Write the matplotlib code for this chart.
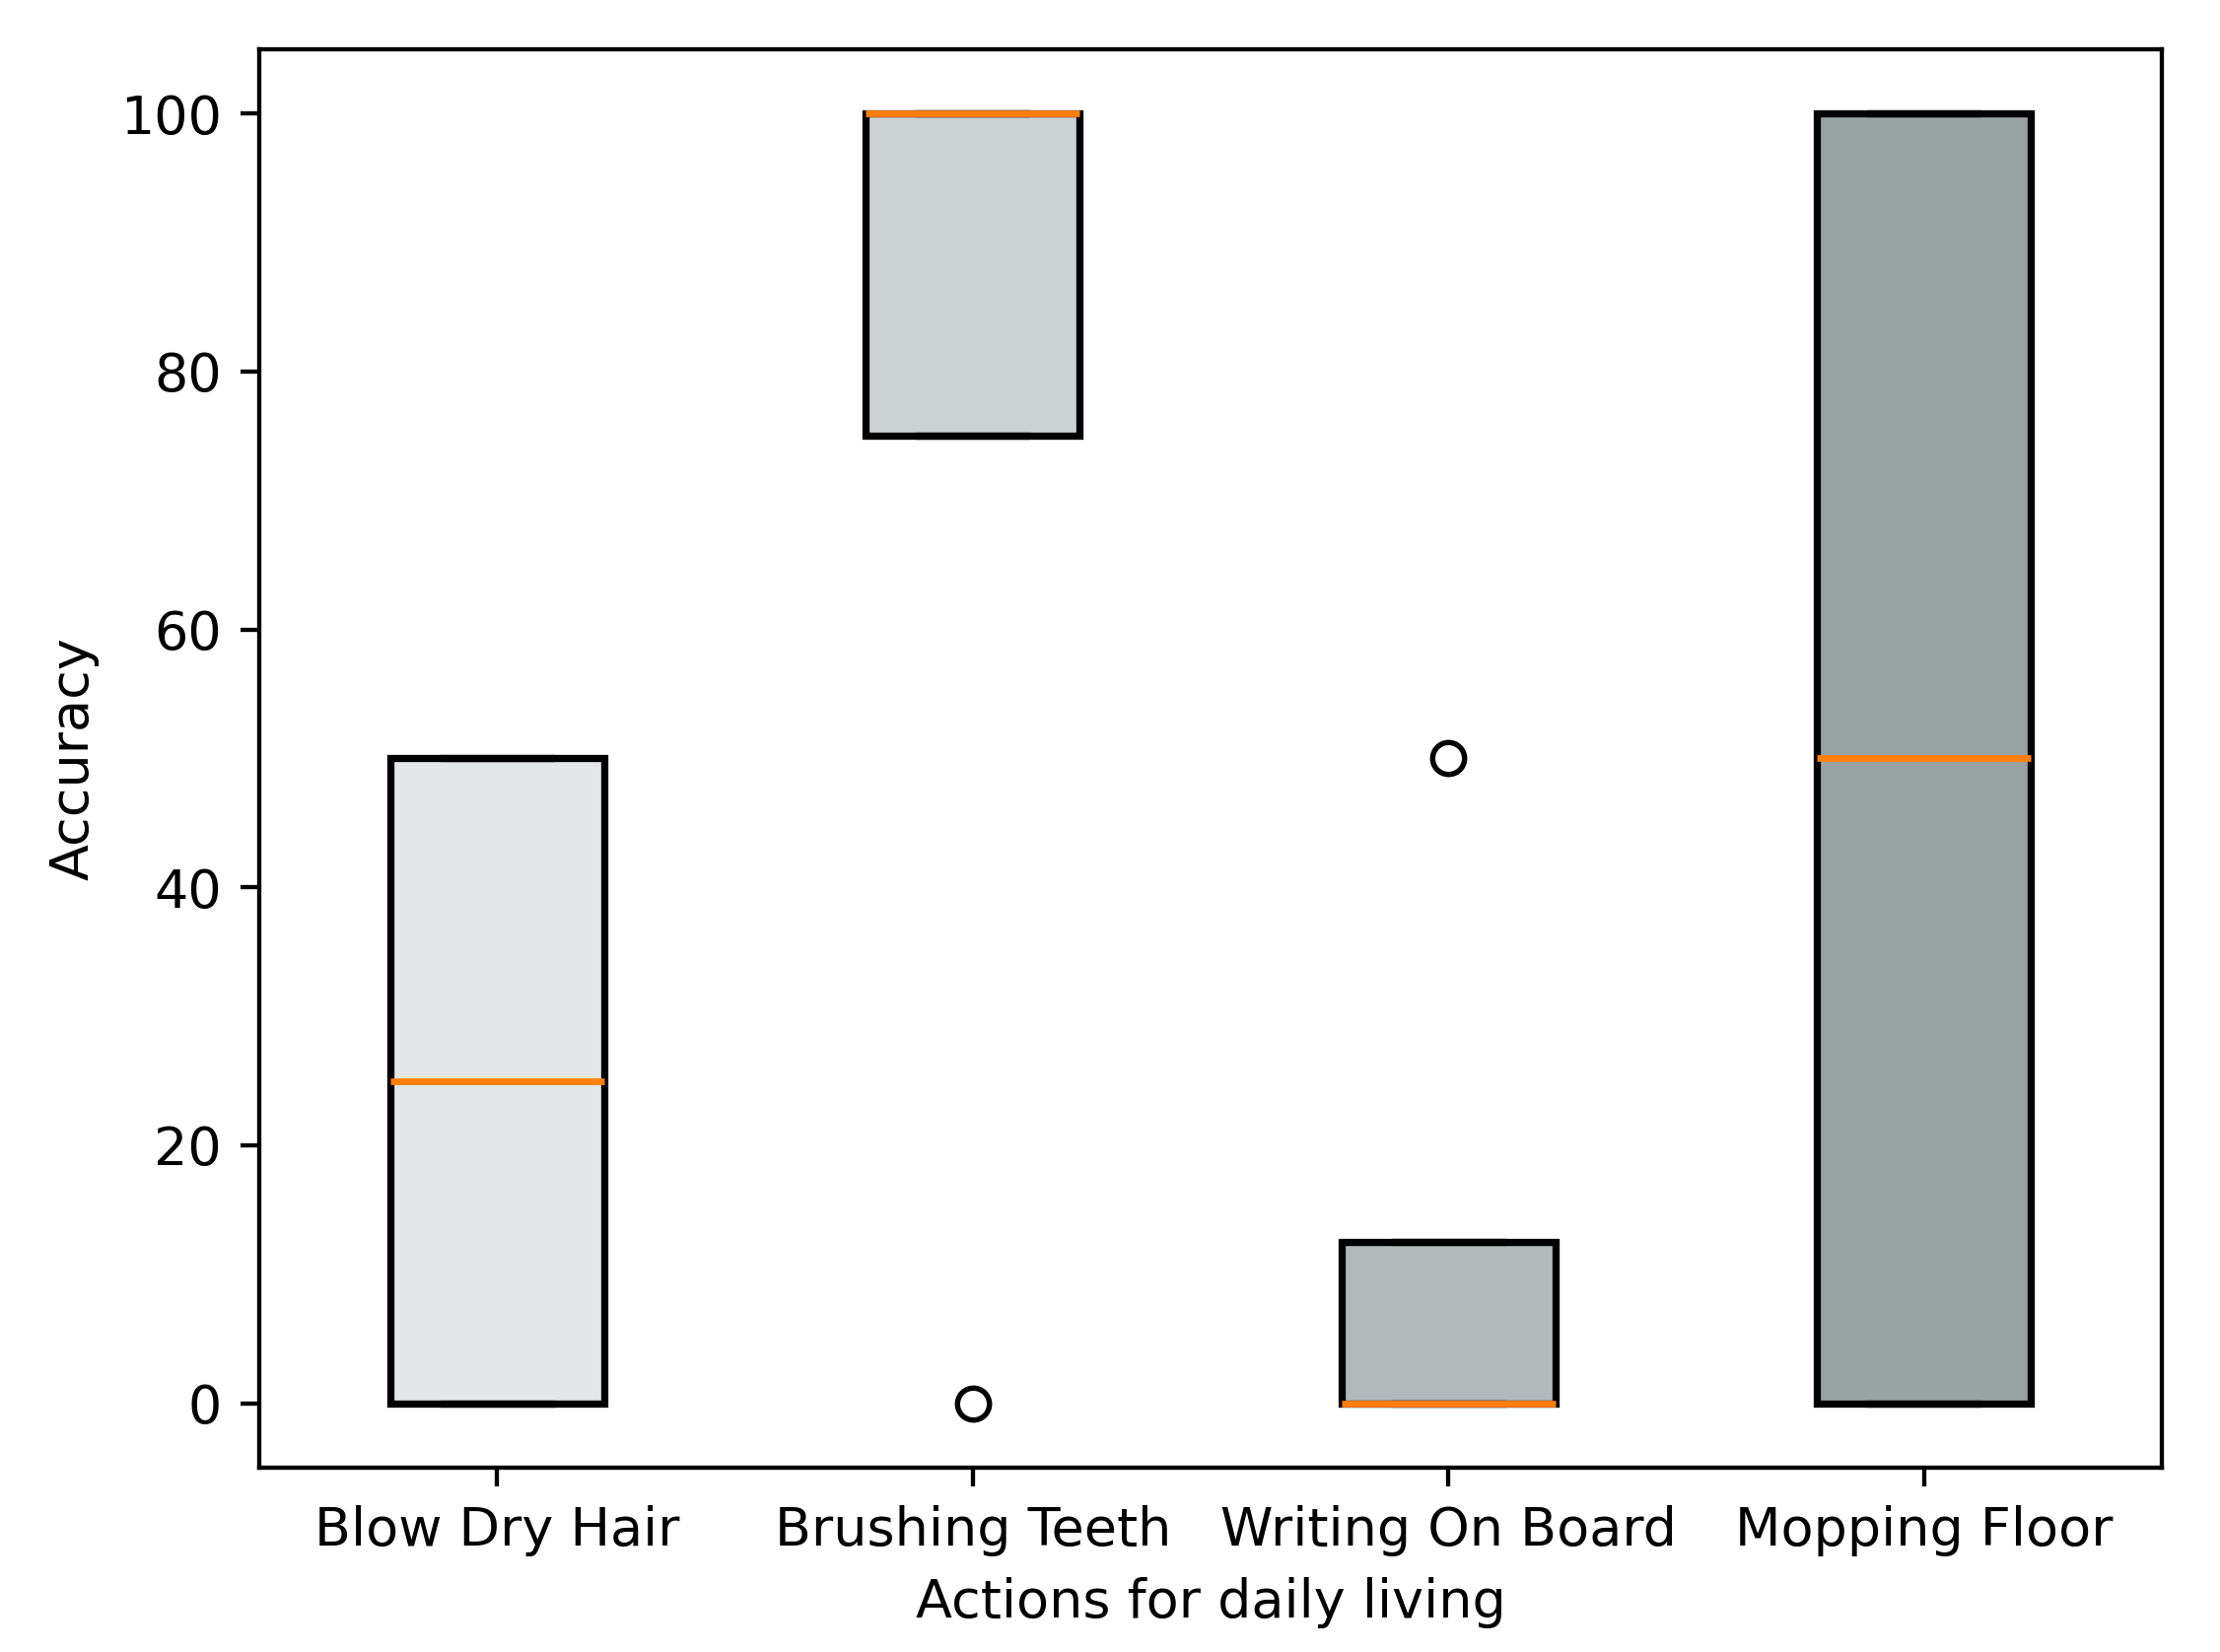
import numpy as np
import matplotlib
matplotlib.use('Agg')
import matplotlib.pyplot as plt

# accuracy per trial for each action
actions = ['Blow Dry Hair', 'Brushing Teeth', 'Writing On Board', 'Mopping Floor']
blow_dry = [0, 0, 50, 50]
brushing = [0, 100, 100, 100]
writing = [0, 0, 0, 50]
mopping = [0, 0, 100, 100]
box_colors = ['#E3E7E7', '#CCD1D1', '#B3B9BA', '#99A3A4']

fig = plt.figure(figsize=(2252 / 389, 1676 / 389), dpi=389)
ax = fig.add_axes([0.1168, 0.1116, 0.857, 0.8586])

bp = ax.boxplot([blow_dry, brushing, writing, mopping], widths=0.45, patch_artist=True,
                boxprops=dict(linewidth=1.35),
                medianprops=dict(linewidth=1.25, color='#ff7f0e'),
                whiskerprops=dict(linewidth=1.35),
                capprops=dict(linewidth=1.35))

for patch, c in zip(bp['boxes'], box_colors):
    patch.set_facecolor(c)

ax.set_xticks(range(1, len(actions) + 1))
ax.set_xticklabels(actions)
ax.set_xlabel('Actions for daily living')
ax.set_ylabel('Accuracy')

plt.savefig('out.png', dpi=389)
